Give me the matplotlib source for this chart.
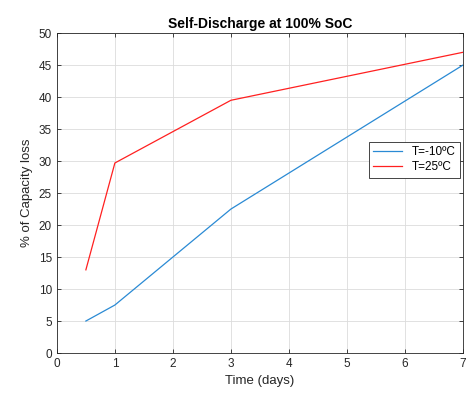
import matplotlib
matplotlib.use("Agg")
import matplotlib.pyplot as plt

plt.rcParams["font.family"] = ["Liberation Sans", "DejaVu Sans"]

days = [0.5, 1, 3, 7]
loss_cold = [5, 7.5, 22.5, 45]
loss_warm = [13, 29.7, 39.5, 47]
labels = ["T=-10ºC", "T=25ºC"]

fig = plt.figure(figsize=(4.7, 3.94), dpi=100)
ax = fig.add_axes([0.121, 0.104, 0.864, 0.812])

ax.plot(days, loss_cold, color="#2a8ad4", lw=0.9, label=labels[0])
ax.plot(days, loss_warm, color="#ff2020", lw=0.9, label=labels[1])

ax.set_xlim(0, 7)
ax.set_ylim(0, 50)
ax.set_xticks(range(0, 8))
ax.set_yticks(range(0, 51, 5))
ax.grid(True, color="#dcdcdc", lw=0.6)
ax.set_axisbelow(True)
ax.tick_params(direction="in", top=True, right=True, labelsize=8.5,
               colors="#262626", length=3, width=0.6)
for s in ax.spines.values():
    s.set_color("#262626")
    s.set_linewidth(0.6)

ax.set_title("Self-Discharge at 100% SoC", fontsize=10, fontweight="bold", pad=4)
ax.set_xlabel("Time (days)", fontsize=9.5, color="#262626")
ax.set_ylabel("% of Capacity loss", fontsize=9.5, color="#262626")

leg = ax.legend(loc="upper right", bbox_to_anchor=(1.007, 0.677), fontsize=8.5,
                fancybox=False, framealpha=1, edgecolor="#262626",
                handlelength=2.5, borderpad=0.35, labelspacing=0.25)
leg.get_frame().set_linewidth(0.6)

plt.savefig("out.png", dpi=100)
